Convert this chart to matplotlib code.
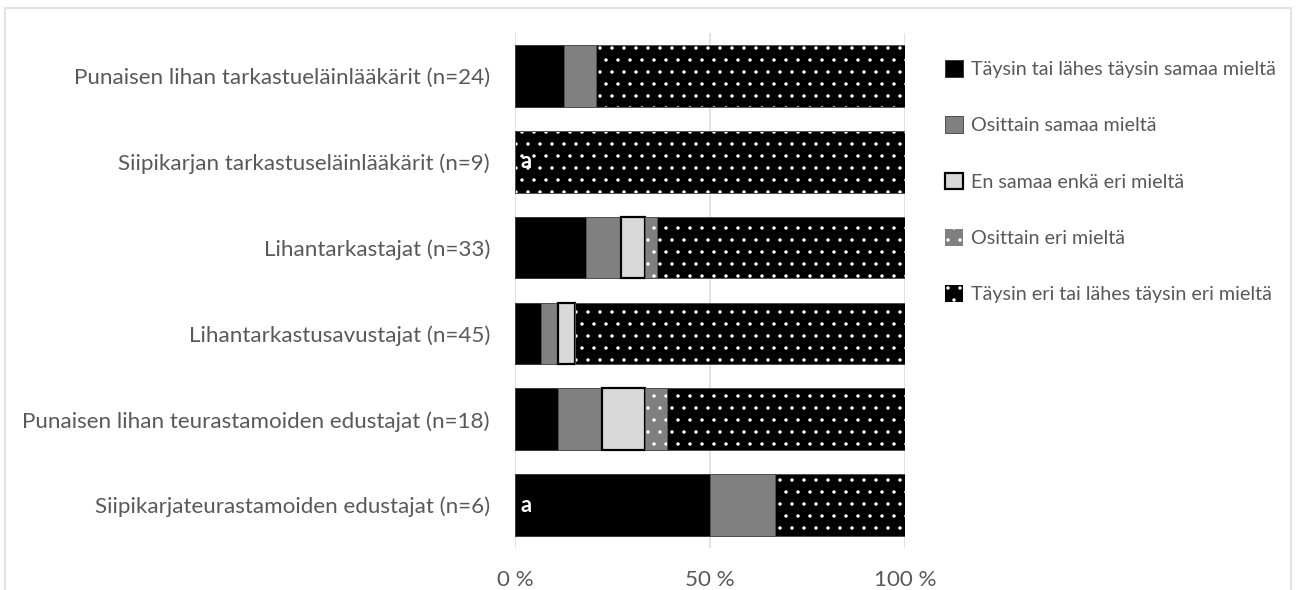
import numpy as np
import matplotlib
matplotlib.use("Agg")
import matplotlib.pyplot as plt
from matplotlib.patches import Patch, Rectangle

# === data (percent of respondents, rows top to bottom) ===
groups = [
    "Punaisen lihan tarkastueläinlääkärit (n=24)",
    "Siipikarjan tarkastuseläinlääkärit (n=9)",
    "Lihantarkastajat (n=33)",
    "Lihantarkastusavustajat (n=45)",
    "Punaisen lihan teurastamoiden edustajat (n=18)",
    "Siipikarjateurastamoiden edustajat (n=6)",
]
taysin_samaa = [12.5, 0.0, 18.2, 6.7, 11.1, 50.0]
osittain_samaa = [8.3, 0.0, 9.1, 4.4, 11.1, 16.7]
en_samaa_en_eri = [0.0, 0.0, 6.1, 4.4, 11.1, 0.0]
osittain_eri = [0.0, 0.0, 3.0, 0.0, 5.6, 0.0]
taysin_eri = [79.2, 100.0, 63.6, 84.4, 61.1, 33.3]
series_labels = [
    "Täysin tai lähes täysin samaa mieltä",
    "Osittain samaa mieltä",
    "En samaa enkä eri mieltä",
    "Osittain eri mieltä",
    "Täysin eri tai lähes täysin eri mieltä",
]
note_rows = [1, 5]  # rows marked with "a"
xticks = [0, 50, 100]
xtick_labels = ["0 %", "50 %", "100 %"]

# hatch tiles are one inch wide, so the dpi sets the dot spacing
DPI = 144
W, H = 1297, 590


def pt(px):
    # pixel size -> points at this dpi
    return px * 72 / DPI


plt.rcParams['font.family'] = ['Lato', 'DejaVu Sans']
plt.rcParams['hatch.linewidth'] = pt(1.0)
txt_color = "#595959"

# (face, edge, edge width px, hatch)
styles = [
    ("black", "#3a3a3a", 1.0, None),
    ("#808080", "#505050", 1.0, None),
    ("#d9d9d9", "black", 2.2, None),
    ("#808080", "#505050", 1.0, ".."),
    ("black", "#505050", 1.0, ".."),
]
series = [taysin_samaa, osittain_samaa, en_samaa_en_eri, osittain_eri, taysin_eri]

fig = plt.figure(figsize=(W / DPI, H / DPI), dpi=DPI)
ax = fig.add_axes([515 / W, 42 / H, 390 / W, 515 / H])

y = np.arange(len(groups))
bar_h = 0.72
left = np.zeros(len(groups))
for vals, (fc, ec, lw, hatch) in zip(series, styles):
    vals = np.array(vals)
    m = vals > 0
    if hatch:
        # white dots on the fill, then the outline on top
        ax.barh(y[m], vals[m], left=left[m], height=bar_h, color=fc,
                edgecolor="white", hatch=hatch, linewidth=0, zorder=3)
        ax.barh(y[m], vals[m], left=left[m], height=bar_h, fill=False,
                edgecolor=ec, linewidth=pt(lw), zorder=4)
    else:
        ax.barh(y[m], vals[m], left=left[m], height=bar_h, color=fc,
                edgecolor=ec, linewidth=pt(lw), zorder=3)
    left += vals

for r in note_rows:
    ax.text(1.5, r, "a", color="white", fontsize=pt(22), fontweight="bold",
            va="center", ha="left", zorder=5)

ax.set_xlim(0, 100)
ax.set_ylim(len(groups) - 0.5, -0.5)
ax.set_xticks(xticks)
ax.set_xticklabels(xtick_labels)
ax.set_yticks(y)
ax.set_yticklabels(groups)
ax.tick_params(axis="both", length=0, colors=txt_color, labelsize=pt(22.4))
ax.tick_params(axis="y", pad=pt(25))
ax.tick_params(axis="x", pad=pt(22))
ax.grid(axis="x", color="#d9d9d9", linewidth=pt(1.5), zorder=0)
ax.set_axisbelow(True)
for s in ax.spines.values():
    s.set_visible(False)

handles = []
for fc, ec, lw, hatch in styles:
    if hatch:
        handles.append(Patch(facecolor=fc, edgecolor="white", hatch=hatch, linewidth=0))
    else:
        handles.append(Patch(facecolor=fc, edgecolor=ec, linewidth=pt(lw)))
leg = fig.legend(handles, series_labels, loc="upper left",
                 bbox_to_anchor=(945 / W, 1 - 60 / H), bbox_transform=fig.transFigure,
                 frameon=False, fontsize=pt(19.7), handlelength=0.92, handleheight=0.92,
                 handletextpad=0.4, labelspacing=1.94, borderpad=0, borderaxespad=0)
for t in leg.get_texts():
    t.set_color(txt_color)

# chart area border
fig.add_artist(Rectangle((5 / W, -0.05), 1286 / W, 1.05 - 8 / H,
                         transform=fig.transFigure, fill=False,
                         edgecolor="#d9d9d9", linewidth=pt(1.5)))

fig.savefig("out.png", dpi=DPI)
